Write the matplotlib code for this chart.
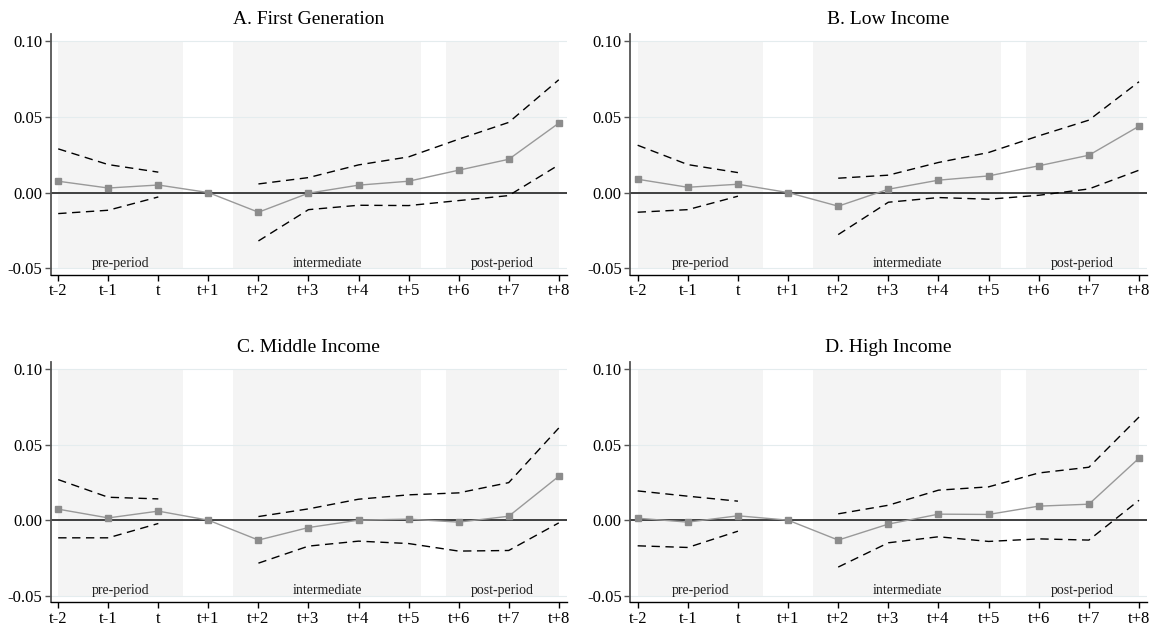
import numpy as np
import matplotlib
matplotlib.use("Agg")
import matplotlib.pyplot as plt

plt.rcParams['font.family'] = ['Liberation Serif', 'DejaVu Serif']

periods = ["t-2", "t-1", "t", "t+1", "t+2", "t+3", "t+4", "t+5", "t+6", "t+7", "t+8"]

titles = ["A. First Generation", "B. Low Income", "C. Middle Income", "D. High Income"]

# point estimates (t+1 is the omitted reference period)
est_first = [0.0075, 0.0030, 0.0050, 0.0, -0.0130, -0.0004, 0.0049, 0.0075, 0.0148, 0.0220, 0.0459]
est_low = [0.0088, 0.0035, 0.0055, 0.0, -0.0090, 0.0022, 0.0082, 0.0110, 0.0177, 0.0247, 0.0439]
est_mid = [0.0073, 0.0015, 0.0060, 0.0, -0.0132, -0.0049, 0.0000, 0.0007, -0.0013, 0.0026, 0.0291]
est_high = [0.0013, -0.0013, 0.0029, 0.0, -0.0132, -0.0026, 0.0040, 0.0038, 0.0093, 0.0106, 0.0411]

# confidence bands (no band at t+1)
hi_first = [0.0289, 0.0185, 0.0135, None, 0.0057, 0.0099, 0.0183, 0.0236, 0.0353, 0.0464, 0.0746]
lo_first = [-0.0139, -0.0117, -0.0029, None, -0.0320, -0.0113, -0.0084, -0.0086, -0.0053, -0.0020, 0.0183]
hi_low = [0.0313, 0.0185, 0.0132, None, 0.0095, 0.0115, 0.0199, 0.0265, 0.0375, 0.0479, 0.0733]
lo_low = [-0.0130, -0.0113, -0.0024, None, -0.0278, -0.0064, -0.0033, -0.0044, -0.0018, 0.0024, 0.0148]
hi_mid = [0.0269, 0.0152, 0.0141, None, 0.0024, 0.0075, 0.0139, 0.0168, 0.0181, 0.0249, 0.0611]
lo_mid = [-0.0117, -0.0117, -0.0022, None, -0.0285, -0.0172, -0.0139, -0.0155, -0.0205, -0.0201, -0.0018]
hi_high = [0.0194, 0.0159, 0.0126, None, 0.0042, 0.0099, 0.0199, 0.0221, 0.0313, 0.0351, 0.0684]
lo_high = [-0.0170, -0.0181, -0.0073, None, -0.0311, -0.0150, -0.0110, -0.0141, -0.0124, -0.0132, 0.0132]

# shaded windows and their labels
regions = [(0, 2.5), (3.5, 7.25), (7.75, 10)]
region_labels = ["pre-period", "intermediate", "post-period"]

yticks = [-0.05, 0.0, 0.05, 0.10]

panels = [
    (est_first, hi_first, lo_first),
    (est_low, hi_low, lo_low),
    (est_mid, hi_mid, lo_mid),
    (est_high, hi_high, lo_high),
]

# axes positions [left, bottom, width, height] in figure fractions
positions = [
    [0.044, 0.561, 0.448, 0.385],
    [0.547, 0.561, 0.4487, 0.385],
    [0.044, 0.038, 0.448, 0.384],
    [0.547, 0.038, 0.4487, 0.384],
]

fig = plt.figure(figsize=(11.52, 6.26), dpi=100)

x = np.arange(len(periods))

for title, (est, hi, lo), pos in zip(titles, panels, positions):
    ax = fig.add_axes(pos)
    hi = np.array([np.nan if v is None else v for v in hi], dtype=float)
    lo = np.array([np.nan if v is None else v for v in lo], dtype=float)

    # background shading
    for (x0, x1), lab in zip(regions, region_labels):
        ax.fill_between([x0, x1], -0.05, 0.10, color="#f4f4f4", lw=0, zorder=0)
        ax.text((x0 + x1) / 2, -0.0468, lab, ha="center", va="center", fontsize=10, color="#222222", zorder=3)

    # faint grid
    for yt in yticks:
        ax.axhline(yt, color="#e4ecee", lw=0.8, zorder=1)

    ax.axhline(0, color="#222222", lw=1.2, zorder=2)

    ax.plot(x, hi, color="black", lw=1.0, ls=(0, (6, 4)), zorder=3)
    ax.plot(x, lo, color="black", lw=1.0, ls=(0, (6, 4)), zorder=3)
    ax.plot(x, est, color="#999999", lw=1.0, marker="s", markersize=5,
            markerfacecolor="#8c8c8c", markeredgecolor="#8c8c8c", zorder=4)

    ax.set_xlim(-0.15, 10.16)
    ax.set_ylim(-0.0544, 0.105)
    ax.set_xticks(x)
    ax.set_xticklabels(periods)
    ax.set_yticks(yticks)
    ax.set_yticklabels(["-0.05", "0.00", "0.05", "0.10"])
    ax.tick_params(axis="x", labelsize=12, length=4, width=1, color="black", pad=2)
    ax.tick_params(axis="y", labelsize=12, length=4, width=1, color="#555555", pad=2)

    ax.spines["top"].set_visible(False)
    ax.spines["right"].set_visible(False)
    ax.spines["left"].set_color("#555555")
    ax.spines["left"].set_linewidth(1.3)
    ax.spines["bottom"].set_color("black")
    ax.spines["bottom"].set_linewidth(1.0)

    ax.set_title(title, fontsize=14, pad=7)

fig.savefig("out.png", dpi=100)
